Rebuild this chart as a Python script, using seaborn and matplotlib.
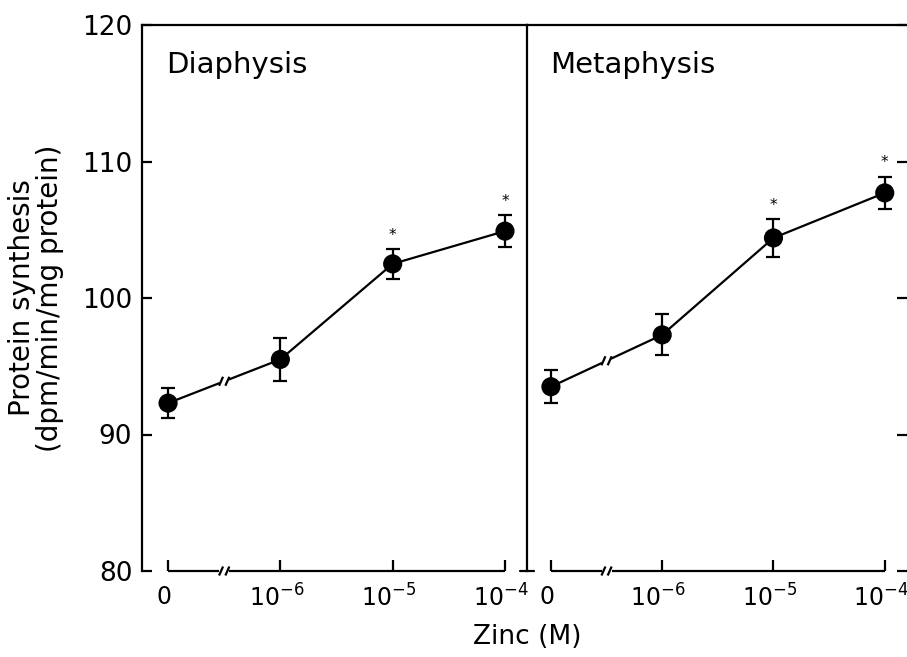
import numpy as np
import pandas as pd
import seaborn as sns
import matplotlib
matplotlib.use("Agg")
import matplotlib.pyplot as plt
import matplotlib.transforms as mtransforms

# ---- data ----
conc_labels = [r"$\mathregular{0}$", r"$\mathregular{10^{-6}}$",
               r"$\mathregular{10^{-5}}$", r"$\mathregular{10^{-4}}$"]
diaphysis_mean = [92.3, 95.5, 102.5, 104.9]
diaphysis_sem = [1.1, 1.6, 1.1, 1.2]
metaphysis_mean = [93.5, 97.3, 104.4, 107.7]
metaphysis_sem = [1.2, 1.5, 1.4, 1.2]
significant = [False, False, True, True]
panel_titles = ["Diaphysis", "Metaphysis"]
y_ticks = [80, 90, 100, 110, 120]

sns.set_style("ticks")
plt.rcParams["font.family"] = ["DejaVu Sans"]
plt.rcParams["mathtext.fontset"] = "custom"
plt.rcParams["mathtext.rm"] = "Liberation Sans"
plt.rcParams["mathtext.it"] = "Liberation Sans"
plt.rcParams["mathtext.bf"] = "Liberation Sans"
plt.rcParams["mathtext.sf"] = "Liberation Sans"
plt.rcParams["text.color"] = "black"
plt.rcParams["axes.edgecolor"] = "black"
plt.rcParams["xtick.color"] = "black"
plt.rcParams["ytick.color"] = "black"

FS = 19
TFS = 21
XFS = 17
LW = 1.6

fig = plt.figure(figsize=(9.07, 6.57), dpi=100)
W, H = 907, 657
top_px, bot_px = 25, 571
ax1 = fig.add_axes([142 / W, 1 - bot_px / H, 385 / W, (bot_px - top_px) / H])
ax2 = fig.add_axes([527 / W, 1 - bot_px / H, 380 / W, (bot_px - top_px) / H])
ax1.patch.set_visible(False)
ax2.patch.set_visible(False)

pos = np.arange(len(conc_labels))
ypx = 40 / (bot_px - top_px)  # data units per pixel


def draw_break(ax, xc, yc, xpx, half_h=4.5):
    # two short slanted strokes
    for dx in (-0.028, 0.028):
        ax.plot([xc + dx - 2.0 * xpx, xc + dx + 2.0 * xpx],
                [yc - half_h * ypx, yc + half_h * ypx],
                color="black", lw=LW, clip_on=False, solid_capstyle="butt")


for ax, title, mean, sem, xlim in [
    (ax1, panel_titles[0], diaphysis_mean, diaphysis_sem, (-0.232, 3.196)),
    (ax2, panel_titles[1], metaphysis_mean, metaphysis_sem, (-0.215, 3.2)),
]:
    ax.set_xlim(*xlim)
    ax.set_ylim(80, 120)
    ax.set_autoscale_on(False)
    xpx = (xlim[1] - xlim[0]) / (ax.get_position().width * W)
    df = pd.DataFrame({"pos": pos, "mean": mean, "sem": sem})

    # connecting line with a break between 0 and 10^-6
    gap = 0.045
    xa = np.array([0, 0.5 - gap])
    xb = np.array([0.5 + gap, 1])
    sns.lineplot(x=xa, y=np.interp(xa, pos, mean), ax=ax, color="black", lw=LW, legend=False)
    sns.lineplot(x=xb, y=np.interp(xb, pos, mean), ax=ax, color="black", lw=LW, legend=False)
    sns.lineplot(data=df[df["pos"] >= 1], x="pos", y="mean", ax=ax, color="black",
                 lw=LW, legend=False)
    draw_break(ax, 0.5, np.interp(0.5, pos, mean), xpx)

    ax.errorbar(df["pos"], df["mean"], yerr=df["sem"], fmt="none", ecolor="black",
                elinewidth=LW, capsize=5, capthick=LW, zorder=3)
    sns.scatterplot(data=df, x="pos", y="mean", ax=ax, color="black", s=190,
                    edgecolor="none", zorder=4, legend=False)
    for p, m, s, sig in zip(pos, mean, sem, significant):
        if sig:
            ax.text(p, m + s + 0.45, "*", ha="center", va="bottom", fontsize=11)

    # baseline "x-axis" with a break
    ax.plot([0, 0.5 - gap], [80, 80], color="black", lw=LW, clip_on=False, solid_capstyle="butt")
    ax.plot([0.5 + gap, 3], [80, 80], color="black", lw=LW, clip_on=False, solid_capstyle="butt")
    draw_break(ax, 0.5, 80, xpx)

    ax.set_xticks(pos)
    ax.set_xticklabels(conc_labels, fontsize=XFS)
    ax.tick_params(axis="x", direction="in", length=8, width=LW, pad=10)
    shift = mtransforms.ScaledTranslation(-4 / 100, 0, fig.dpi_scale_trans)
    for lab in ax.get_xticklabels():
        lab.set_transform(lab.get_transform() + shift)
    ax.set_xlabel("")
    ax.set_ylabel("")
    ax.text(0.062, 0.927, title, transform=ax.transAxes, fontsize=TFS, ha="left", va="center")
    for sp in ax.spines.values():
        sp.set_linewidth(LW)
    ax.spines["bottom"].set_visible(False)

# left panel y axis
ax1.set_yticks(y_ticks)
ax1.set_yticklabels([str(v) for v in y_ticks], fontsize=FS)
ax1.tick_params(axis="y", direction="in", length=7, width=LW, left=True, right=False, pad=7)
ax1.spines["right"].set_visible(True)

# right panel: ticks on right edge only
ax2.set_yticks(y_ticks)
ax2.tick_params(axis="y", direction="in", length=7, width=LW, left=False, right=True,
                labelleft=False, labelright=False)
ax2.spines["left"].set_visible(False)
ax2.spines["right"].set_visible(False)

# tick at 80 on the divider (both sides)
tr = mtransforms.blended_transform_factory(ax1.transAxes, ax1.transData)
d = 7 / 385
ax1.plot([1 - d, 1 + d], [80, 80], transform=tr, color="black", lw=LW, clip_on=False)

fig.text(36 / W, 1 - 298 / H, "Protein synthesis\n(dpm/min/mg protein)", rotation=90,
         ha="center", va="center", fontsize=20, multialignment="center", linespacing=1.0)
fig.text(527 / W, 1 - 637 / H, "Zinc (M)", ha="center", va="center", fontsize=FS)

fig.savefig("out.png", dpi=100)
